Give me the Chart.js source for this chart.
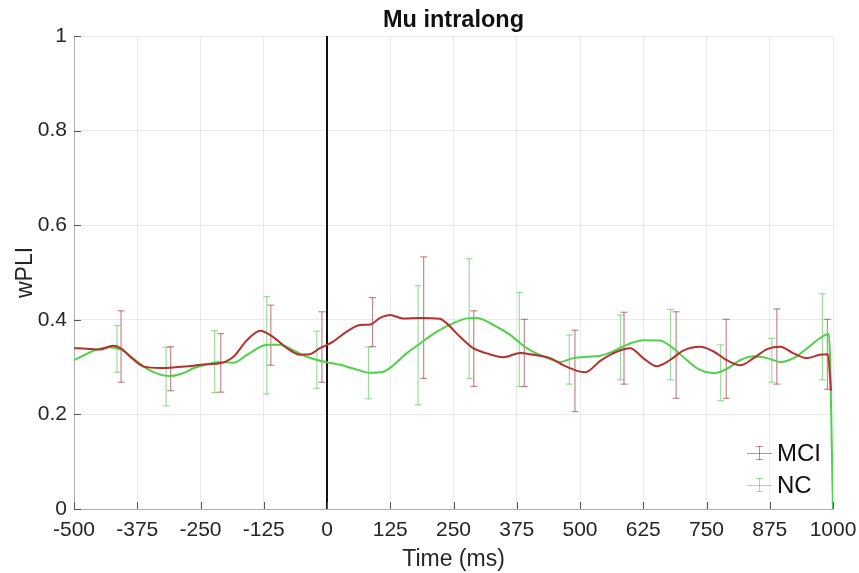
<!DOCTYPE html>
<html>
<head>
<meta charset="utf-8">
<title>Mu intralong</title>
<script src="https://cdn.jsdelivr.net/npm/chart.js@4.4.1/dist/chart.umd.min.js"></script>
<style>
  body { margin: 0; background: #fff; font-family: "Liberation Sans", Arial, sans-serif; }
  #wrap { position: relative; width: 859px; height: 573px; }
  #legenda { position: absolute; left: 747px; top: 437px; font-size: 24px; color: #111; }
  .item { display: flex; align-items: center; height: 32px; }
  .icone { position: relative; width: 25px; height: 20px; margin-right: 5px; }
  .icone span { position: absolute; }
  .icone .h { left: 0; right: 0; top: 10px; height: 1px; }
  .icone .v { left: 12px; width: 1px; top: 3px; bottom: 3px; }
  .icone .c1, .icone .c2 { left: 9px; width: 7px; height: 1px; }
  .icone .c1 { top: 3px; }
  .icone .c2 { bottom: 3px; }
  .mci span { background: rgba(150, 40, 50, 0.55); }
  .nc span { background: rgba(90, 200, 90, 0.6); }
</style>
</head>
<body>
<div id="wrap">
  <canvas id="grafico-wpli" width="859" height="573"></canvas>
  <div id="legenda">
    <div class="item"><div class="icone mci"><span class="h"></span><span class="v"></span><span class="c1"></span><span class="c2"></span></div>MCI</div>
    <div class="item"><div class="icone nc"><span class="h"></span><span class="v"></span><span class="c1"></span><span class="c2"></span></div>NC</div>
  </div>
</div>
<script>
// Curva média do grupo MCI (tempo em ms, valor wPLI)
const tempoMCI = [-500, -475, -450, -423, -405, -389, -362, -329, -296, -263, -237, -211, -185, -158, -132, -107, -79, -53, -34, -14, 0, 12, 39, 65, 85, 105, 125, 150, 184, 223, 236, 263, 289, 316, 349, 382, 408, 441, 467, 494, 510, 540, 565, 599, 625, 651, 678, 704, 737, 764, 791, 817, 843, 870, 896, 922, 949, 974, 990, 996];
const valoresMCI = [0.340, 0.339, 0.337, 0.345, 0.338, 0.322, 0.301, 0.298, 0.300, 0.303, 0.306, 0.308, 0.322, 0.357, 0.377, 0.364, 0.340, 0.326, 0.327, 0.340, 0.347, 0.354, 0.375, 0.389, 0.390, 0.404, 0.410, 0.403, 0.404, 0.402, 0.393, 0.364, 0.340, 0.329, 0.321, 0.330, 0.326, 0.319, 0.304, 0.292, 0.289, 0.313, 0.329, 0.340, 0.319, 0.302, 0.315, 0.335, 0.343, 0.333, 0.314, 0.304, 0.319, 0.338, 0.343, 0.329, 0.319, 0.326, 0.327, 0.250];

// Curva média do grupo NC
const tempoNC = [-500, -480, -458, -431, -405, -379, -352, -312, -285, -263, -237, -211, -185, -158, -118, -93, -67, -40, 0, 26, 52, 85, 111, 131, 157, 184, 217, 250, 276, 296, 329, 362, 395, 435, 461, 487, 514, 540, 565, 599, 625, 658, 684, 711, 737, 764, 791, 817, 843, 870, 896, 922, 949, 974, 992, 1000];
const valoresNC = [0.315, 0.325, 0.336, 0.342, 0.336, 0.315, 0.294, 0.281, 0.287, 0.298, 0.306, 0.311, 0.309, 0.326, 0.347, 0.347, 0.336, 0.322, 0.310, 0.305, 0.297, 0.288, 0.290, 0.304, 0.329, 0.350, 0.375, 0.393, 0.403, 0.404, 0.389, 0.368, 0.340, 0.319, 0.311, 0.319, 0.322, 0.324, 0.333, 0.350, 0.357, 0.356, 0.340, 0.315, 0.294, 0.287, 0.297, 0.315, 0.323, 0.319, 0.311, 0.319, 0.340, 0.361, 0.370, 0.000];

// Barras de erro (limite inferior e superior)
const barraTempoMCI = [-407, -309, -210, -111, -10, 90, 191, 290, 390, 490, 587, 690, 789, 889, 989];
const barraInfMCI = [0.268, 0.250, 0.247, 0.304, 0.268, 0.343, 0.276, 0.259, 0.259, 0.206, 0.264, 0.234, 0.234, 0.264, 0.253];
const barraSupMCI = [0.419, 0.343, 0.371, 0.431, 0.417, 0.447, 0.533, 0.419, 0.401, 0.378, 0.416, 0.417, 0.401, 0.423, 0.401];

const barraTempoNC = [-415, -318, -222, -119, -20, 82, 180, 281, 380, 479, 580, 679, 778, 879, 979];
const barraInfNC = [0.289, 0.218, 0.246, 0.243, 0.255, 0.233, 0.220, 0.276, 0.259, 0.264, 0.273, 0.273, 0.229, 0.268, 0.273];
const barraSupNC = [0.388, 0.342, 0.377, 0.449, 0.376, 0.343, 0.472, 0.529, 0.458, 0.368, 0.410, 0.422, 0.347, 0.361, 0.455];

// Linha do estímulo (t = 0)
const linhaZeroX = [0, 0];
const linhaZeroY = [0, 1];

function pontos(xs, ys) {
    return xs.map((x, i) => ({ x: x, y: ys[i] }));
}

// cada barra vira um segmento vertical; o null separa uma barra da outra
function barras(xs, inf, sup) {
    let out = [];
    xs.forEach((x, i) => {
        out.push({ x: x, y: inf[i] }, { x: x, y: sup[i] }, { x: x, y: null });
    });
    return out;
}

const corMCI = '#b5302e';
const corNC = '#4fd14a';
const corBarraMCI = 'rgba(150, 40, 50, 0.55)';
const corBarraNC = 'rgba(90, 200, 90, 0.6)';
const corTexto = '#262626';
const fonte = '"Liberation Sans", Arial, sans-serif';

// marquinhas de tick para dentro, estilo MATLAB
const ticksInternos = {
    id: 'ticksInternos',
    afterDatasetsDraw(chart) {
        const ctx = chart.ctx;
        const area = chart.chartArea;
        const sx = chart.scales.x, sy = chart.scales.y;
        ctx.save();
        ctx.strokeStyle = '#555';
        ctx.lineWidth = 1;
        ctx.beginPath();
        sx.ticks.forEach((t, i) => {
            const px = Math.round(sx.getPixelForTick(i)) + 0.5;
            ctx.moveTo(px, area.bottom);
            ctx.lineTo(px, area.bottom - 7);
        });
        sy.ticks.forEach((t, i) => {
            const py = Math.round(sy.getPixelForTick(i)) + 0.5;
            ctx.moveTo(area.left, py);
            ctx.lineTo(area.left + 7, py);
        });
        ctx.stroke();
        ctx.restore();
    }
};

const ctx = document.getElementById('grafico-wpli').getContext('2d');
const grafico = new Chart(ctx, {
    type: 'line',
    data: {
        datasets: [
            {
                label: 'MCI',
                data: pontos(tempoMCI, valoresMCI),
                borderColor: corMCI,
                borderWidth: 2,
                pointRadius: 0,
                cubicInterpolationMode: 'monotone',
                order: 1
            },
            {
                label: 'NC',
                data: pontos(tempoNC, valoresNC),
                borderColor: corNC,
                borderWidth: 2,
                pointRadius: 0,
                cubicInterpolationMode: 'monotone',
                order: 2
            },
            {
                label: 'erro MCI',
                data: barras(barraTempoMCI, barraInfMCI, barraSupMCI),
                borderColor: corBarraMCI,
                borderWidth: 1.2,
                pointStyle: 'line',
                pointRadius: 3.5,
                pointBorderColor: corBarraMCI,
                pointBorderWidth: 1.2,
                spanGaps: false,
                order: 3
            },
            {
                label: 'erro NC',
                data: barras(barraTempoNC, barraInfNC, barraSupNC),
                borderColor: corBarraNC,
                borderWidth: 1.2,
                pointStyle: 'line',
                pointRadius: 3.5,
                pointBorderColor: corBarraNC,
                pointBorderWidth: 1.2,
                spanGaps: false,
                order: 4
            },
            {
                label: 'zero',
                data: pontos(linhaZeroX, linhaZeroY),
                borderColor: '#111',
                borderWidth: 2,
                pointRadius: 0,
                order: 5
            }
        ]
    },
    options: {
        responsive: false,
        animation: false,
        layout: { padding: { left: 0, right: 26, top: 0, bottom: 0 } },
        plugins: {
            legend: { display: false },
            tooltip: { enabled: false }
        },
        scales: {
            // eixo superior só para centralizar o título sobre a área do gráfico
            xTopo: {
                type: 'linear',
                position: 'top',
                min: -500,
                max: 1000,
                ticks: { display: false },
                grid: { display: false },
                border: { display: false },
                title: {
                    display: true,
                    text: 'Mu intralong',
                    color: '#111',
                    padding: { top: 6, bottom: 0 },
                    font: { family: fonte, size: 23.5, weight: 'bold' }
                },
                afterFit: function (scale) {
                    scale.height = 36;
                    scale.paddingLeft = 0;
                    scale.paddingRight = 0;
                }
            },
            x: {
                type: 'linear',
                min: -500,
                max: 1000,
                ticks: {
                    stepSize: 125,
                    color: corTexto,
                    padding: 9,
                    maxRotation: 0,
                    font: { family: fonte, size: 21 },
                    callback: function (v) { return String(v); }
                },
                grid: { color: 'rgba(0,0,0,0.08)', drawTicks: false },
                border: { color: 'rgba(0,0,0,0.25)' },
                title: {
                    display: true,
                    text: 'Time (ms)',
                    color: corTexto,
                    padding: { top: 0, bottom: 0 },
                    font: { family: fonte, size: 23 }
                },
                afterFit: function (scale) {
                    scale.height = 64;
                    scale.paddingLeft = 0;
                    scale.paddingRight = 0;
                }
            },
            y: {
                min: 0,
                max: 1,
                ticks: {
                    stepSize: 0.2,
                    color: corTexto,
                    padding: 7,
                    font: { family: fonte, size: 21 },
                    callback: function (v) { return String(+v.toFixed(1)); }
                },
                grid: { color: 'rgba(0,0,0,0.08)', drawTicks: false },
                border: { color: 'rgba(0,0,0,0.25)' },
                title: {
                    display: true,
                    text: 'wPLI',
                    color: corTexto,
                    padding: { top: 12, bottom: 0 },
                    font: { family: fonte, size: 23 }
                },
                afterFit: function (scale) {
                    scale.width = 74;
                    scale.paddingTop = 0;
                    scale.paddingBottom = 0;
                }
            }
        }
    },
    plugins: [ticksInternos]
});
</script>
</body>
</html>
